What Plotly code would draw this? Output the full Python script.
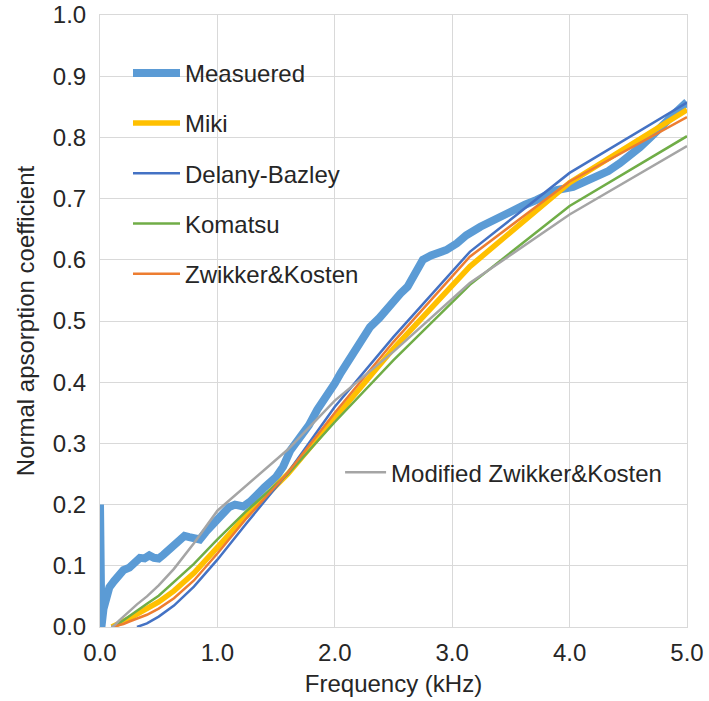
import plotly.graph_objects as go

# ---- data (kHz, absorption coefficient) ----
meas_f = [0.0, 0.012, 0.03, 0.05, 0.08, 0.12, 0.16, 0.2, 0.25, 0.3, 0.34, 0.38, 0.42, 0.46, 0.5,
          0.54, 0.57, 0.62, 0.67, 0.72, 0.76, 0.8, 0.85, 0.9, 0.94, 1.0, 1.05, 1.1, 1.15, 1.22,
          1.28, 1.33, 1.4, 1.5, 1.56, 1.62, 1.7, 1.78, 1.85, 1.93, 2.0, 2.05, 2.1, 2.2, 2.3,
          2.38, 2.45, 2.5, 2.56, 2.62, 2.66, 2.7, 2.75, 2.82, 2.9, 2.95, 3.04, 3.12, 3.24, 3.3,
          3.38, 3.45, 3.52, 3.62, 3.72, 3.8, 3.89, 4.03, 4.12, 4.23, 4.33, 4.43, 4.52, 4.6,
          4.7, 4.8, 4.9, 5.0]
meas_a = [0.2, 0.0, 0.03, 0.05, 0.065, 0.075, 0.085, 0.093, 0.097, 0.105, 0.113, 0.112, 0.117, 0.113, 0.112,
          0.118, 0.123, 0.13, 0.142, 0.149, 0.147, 0.146, 0.143, 0.155, 0.163, 0.178, 0.187, 0.196, 0.2, 0.197,
          0.205, 0.216, 0.228, 0.245, 0.262, 0.288, 0.308, 0.33, 0.355, 0.376, 0.398, 0.415, 0.431, 0.46, 0.49,
          0.505, 0.522, 0.534, 0.545, 0.556, 0.57, 0.588, 0.6, 0.607, 0.612, 0.616, 0.627, 0.64, 0.654, 0.66,
          0.665, 0.672, 0.681, 0.69, 0.698, 0.705, 0.714, 0.719, 0.726, 0.735, 0.745, 0.758, 0.77, 0.784,
          0.802, 0.823, 0.84, 0.858]

# model predictions at 1/3-octave band centre frequencies
band_f = [0.1, 0.125, 0.16, 0.2, 0.25, 0.315, 0.4, 0.5, 0.63, 0.8, 1.0, 1.25, 1.6, 2.0, 2.5, 3.15, 4.0, 5.0]
miki_a = [0.0, 0.002, 0.005, 0.009, 0.014, 0.021, 0.03, 0.041, 0.059, 0.088, 0.13, 0.183, 0.25, 0.34, 0.455, 0.589, 0.726, 0.845]
kom_a = [0.0, 0.002, 0.006, 0.011, 0.018, 0.027, 0.038, 0.051, 0.073, 0.103, 0.143, 0.19, 0.25, 0.335, 0.436, 0.559, 0.688, 0.802]
zk_a = [0.0, 0.001, 0.003, 0.005, 0.009, 0.014, 0.02, 0.03, 0.047, 0.076, 0.12, 0.178, 0.252, 0.35, 0.466, 0.605, 0.728, 0.833]
mzk_a = [0.0, 0.003, 0.01, 0.017, 0.026, 0.037, 0.05, 0.068, 0.095, 0.137, 0.19, 0.232, 0.29, 0.37, 0.45, 0.562, 0.674, 0.786]

db_f = [0.315, 0.4, 0.5, 0.63, 0.8, 1.0, 1.25, 1.6, 2.0, 2.5, 3.15, 4.0, 5.0]
db_a = [0.0, 0.006, 0.017, 0.035, 0.066, 0.11, 0.17, 0.252, 0.36, 0.474, 0.613, 0.742, 0.857]

x_ticks = [0, 1, 2, 3, 4, 5]
x_tick_labels = ["0.0", "1.0", "2.0", "3.0", "4.0", "5.0"]

FONT = "Liberation Sans, Arial, sans-serif"
TXT = "#262626"
GRID = "#d9d9d9"
FS = 24

fig = go.Figure()
fig.add_trace(go.Scatter(x=meas_f, y=meas_a, mode="lines", name="Measuered",
                         line=dict(color="#5B9BD5", width=8), legendgroup="a"))
fig.add_trace(go.Scatter(x=band_f, y=miki_a, mode="lines", name="Miki",
                         line=dict(color="#FFC000", width=5.5), legendgroup="b"))
fig.add_trace(go.Scatter(x=db_f, y=db_a, mode="lines", name="Delany-Bazley",
                         line=dict(color="#4472C4", width=2.5), legendgroup="c"))
fig.add_trace(go.Scatter(x=band_f, y=kom_a, mode="lines", name="Komatsu",
                         line=dict(color="#70AD47", width=2.5), legendgroup="d"))
fig.add_trace(go.Scatter(x=band_f, y=zk_a, mode="lines", name="Zwikker&Kosten",
                         line=dict(color="#ED7D31", width=2.5), legendgroup="e"))
fig.add_trace(go.Scatter(x=band_f, y=mzk_a, mode="lines", name="Modified Zwikker&Kosten",
                         line=dict(color="#A5A5A5", width=2.5), legend="legend2"))

fig.update_layout(
    width=709, height=701,
    margin=dict(l=100, r=22, t=15, b=74),
    paper_bgcolor="white", plot_bgcolor="white",
    font=dict(family=FONT, size=FS, color=TXT),
    legend=dict(x=0.0477, y=0.9415, xanchor="left", yanchor="top", bgcolor="rgba(0,0,0,0)",
                traceorder="grouped", tracegroupgap=16, itemwidth=47,
                font=dict(family=FONT, size=FS, color=TXT)),
    legend2=dict(x=0.409, y=0.289, xanchor="left", yanchor="top", bgcolor="rgba(0,0,0,0)",
                 itemwidth=41, font=dict(family=FONT, size=FS, color=TXT)),
    xaxis=dict(range=[0, 5], tickvals=x_ticks, ticktext=x_tick_labels,
               showgrid=True, gridcolor=GRID, gridwidth=1, zeroline=False,
               showline=True, linecolor=GRID, mirror=True, ticks="", ticklabelstandoff=4,
               title=dict(text="Frequency (kHz)", font=dict(size=FS, color=TXT), standoff=10),
               tickfont=dict(size=FS, color=TXT), automargin=False),
    yaxis=dict(range=[0, 1.0], dtick=0.1, tickformat=".1f",
               showgrid=True, gridcolor=GRID, gridwidth=1, zeroline=False,
               showline=True, linecolor=GRID, mirror=True, ticks="", ticklabelstandoff=8,
               title=dict(text="Normal apsorption coefficient", font=dict(size=FS, color=TXT), standoff=11),
               tickfont=dict(size=FS, color=TXT), automargin=False),
)

fig.write_html("out.html")
